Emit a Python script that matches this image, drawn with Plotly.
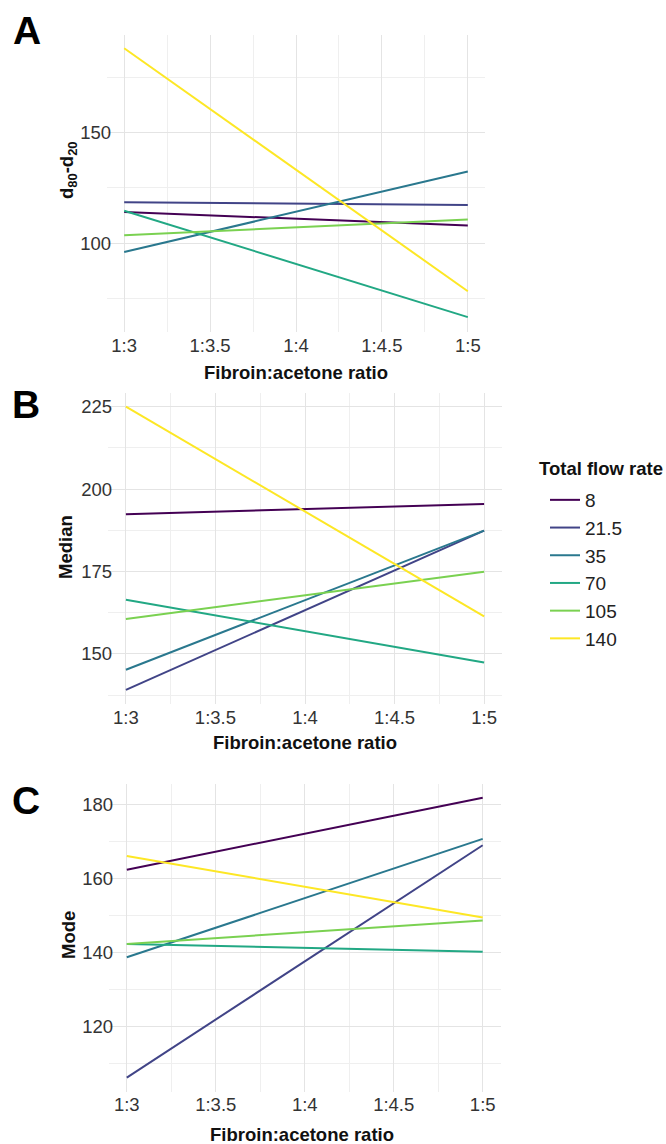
import plotly.graph_objects as go

# ---- data ----
flow_rates = ["8", "21.5", "35", "70", "105", "140"]
ratios = [3, 5]
ratio_ticks = [3, 3.5, 4, 4.5, 5]
ratio_labels = ["1:3", "1:3.5", "1:4", "1:4.5", "1:5"]

d80_d20 = [
    [114.1, 108.1],
    [118.5, 117.3],
    [96.1, 132.4],
    [114.7, 66.7],
    [103.6, 110.8],
    [188.0, 78.4],
]
median = [
    [192.4, 195.5],
    [139.1, 187.4],
    [145.2, 187.4],
    [166.4, 147.4],
    [160.6, 174.9],
    [225.0, 161.4],
]
mode = [
    [162.3, 181.7],
    [106.3, 168.9],
    [138.7, 170.6],
    [142.3, 140.2],
    [142.3, 148.6],
    [166.0, 149.4],
]

colors = ["#440154", "#414487", "#2A788E", "#22A884", "#7AD151", "#FDE725"]

W, H = 666, 1144
FONT = "Liberation Sans, Arial, sans-serif"
FS = 18.5

fig = go.Figure()

panels = [
    (d80_d20, "x", "y", True),
    (median, "x2", "y2", False),
    (mode, "x3", "y3", False),
]
for vals, xa, ya, sl in panels:
    for name, v, c in zip(flow_rates, vals, colors):
        fig.add_trace(go.Scatter(
            x=ratios, y=v, mode="lines", name=name,
            line=dict(color=c, width=2),
            xaxis=xa, yaxis=ya, showlegend=sl, legendgroup=name,
        ))

def px_x(p):
    return p / W

def px_y(p):
    return 1 - p / H

grid_major = "#e4e4e4"
grid_minor = "#efefef"

def xaxis(dom, anchor):
    return dict(
        domain=[px_x(dom[0]), px_x(dom[1])], anchor=anchor,
        range=[2.9, 5.1], tickmode="array", tickvals=ratio_ticks, ticktext=ratio_labels,
        showgrid=True, gridcolor=grid_major, gridwidth=1, zeroline=False, showline=False,
        ticks="", tickfont=dict(family=FONT, size=FS, color="#333333"),
        minor=dict(tickmode="array", tickvals=[3.25, 3.75, 4.25, 4.75], showgrid=True,
                   gridcolor=grid_minor, gridwidth=1),
    )

def yaxis(dom, anchor, rng, dtick):
    return dict(
        domain=[px_y(dom[1]), px_y(dom[0])], anchor=anchor,
        range=rng, tick0=0, dtick=dtick,
        showgrid=True, gridcolor=grid_major, gridwidth=1, zeroline=False, showline=False,
        ticks="", tickfont=dict(family=FONT, size=FS, color="#333333"),
        ticklabelstandoff=-5,
        minor=dict(tick0=0, dtick=dtick / 2, showgrid=True, gridcolor=grid_minor, gridwidth=1),
    )

fig.update_layout(
    width=W, height=H,
    margin=dict(l=0, r=0, t=0, b=0),
    paper_bgcolor="white", plot_bgcolor="white",
    font=dict(family=FONT, size=FS, color="#222222"),
    xaxis=xaxis((107, 485), "y"),
    yaxis=yaxis((35, 332), "x", [60, 194], 50),
    xaxis2=xaxis((108, 502), "y2"),
    yaxis2=yaxis((392.5, 704), "x2", [134.8, 229.3], 25),
    xaxis3=xaxis((109, 500.5), "y3"),
    yaxis3=yaxis((783.6, 1091.7), "x3", [102.5, 185.5], 20),
    legend=dict(
        x=px_x(545), y=px_y(481), xanchor="left", yanchor="top",
        font=dict(family=FONT, size=19, color="#222222"),
        bgcolor="rgba(0,0,0,0)", tracegroupgap=0, itemwidth=30,
    ),
)

annotations = []
# legend title
annotations.append(dict(
    text="<b>Total flow rate</b>", x=px_x(537), y=px_y(468), xref="paper", yref="paper",
    showarrow=False, xanchor="left", yanchor="middle",
    font=dict(family=FONT, size=FS, color="#111111"),
))
# x-axis titles
for cx, cy in [(296, 372), (305, 742), (302, 1134)]:
    annotations.append(dict(
        text="<b>Fibroin:acetone ratio</b>", x=px_x(cx), y=px_y(cy), xref="paper", yref="paper",
        showarrow=False, xanchor="center", yanchor="middle",
        font=dict(family=FONT, size=FS, color="#111111"),
    ))
# y-axis titles
for txt, cx, cy in [("<b>d<sub>80</sub>-d<sub>20</sub></b>", 68, 170),
                    ("<b>Median</b>", 65, 547),
                    ("<b>Mode</b>", 68, 935)]:
    annotations.append(dict(
        text=txt, x=px_x(cx), y=px_y(cy), xref="paper", yref="paper", textangle=-90,
        showarrow=False, xanchor="center", yanchor="middle",
        font=dict(family=FONT, size=FS, color="#111111"),
    ))
# panel letters
for txt, cx, cy in [("A", 26.5, 31), ("B", 26, 404), ("C", 26, 800)]:
    annotations.append(dict(
        text="<b>" + txt + "</b>", x=px_x(cx), y=px_y(cy), xref="paper", yref="paper",
        showarrow=False, xanchor="center", yanchor="middle",
        font=dict(family=FONT, size=39, color="#000000"),
    ))
fig.update_layout(annotations=annotations)

fig.write_html("out.html", config={"displayModeBar": False},
               post_script="document.body.style.margin='0';")
